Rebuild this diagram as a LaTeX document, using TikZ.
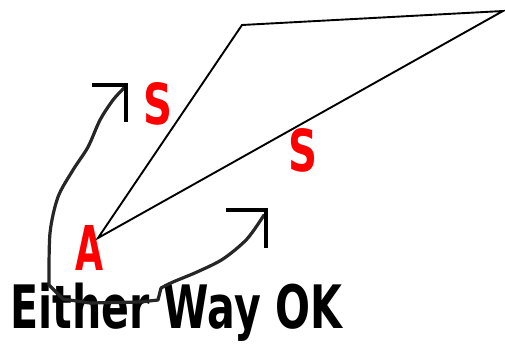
\documentclass[tikz,border=0pt]{standalone}
\usepackage{fontspec}
\setmainfont{DejaVu Sans}
\begin{document}
\begin{tikzpicture}[x=1pt,y=-1pt,
  edge/.style={draw=black,line width=1.9pt,line join=miter},
  swoop/.style={draw=black!85,line width=3.2pt,line join=round,line cap=round},
  headbar/.style={draw=black,line width=4.5pt},
  redlbl/.style={inner sep=0pt,text=red,font=\bfseries},
  caption/.style={inner sep=0pt,text=black,font=\bfseries}]
\useasboundingbox (0,0) rectangle (505,343);
% triangle vertices
\coordinate (va) at (98,238);
\coordinate (vb) at (242,25);
\coordinate (vc) at (503,11);
\draw[edge] (va) -- (vb) -- (vc) -- cycle;
% labels
\node[redlbl] (lblA) at (89.5,247.5) {\resizebox{28pt}{45pt}{A}};
\node[redlbl] (lblS1) at (157.5,104) {\resizebox{29pt}{42pt}{S}};
\node[redlbl] (lblS2) at (302.5,150) {\resizebox{29pt}{43pt}{S}};
% caption
\node[caption,anchor=base west] (cap) at (10,328.5) {\resizebox{332pt}{45.5pt}{Either Way OK}};
% hand-drawn double arrow
\coordinate (tipT) at (124,88);
\coordinate (tipB) at (264,215);
\draw[swoop] plot[smooth,tension=0.5] coordinates {(tipT) (113,100) (100,120) (88,147) (73,170) (58,197) (50,233) (49,285)}
  -- (63,299) -- (90,303) -- (140,302) -- (158,300) -- (161,288)
  plot[smooth,tension=0.5] coordinates {(161,288) (173,282) (197,272) (223,259) (247,239) (tipB)};
\coordinate (hT1) at (92,85);
\coordinate (hT2) at (128,85);
\coordinate (hT3) at (126,122);
\draw[headbar] (hT1) -- (hT2);
\draw[headbar] (126,85) -- (hT3);
\coordinate (hB1) at (226,210);
\coordinate (hB2) at (268,210);
\coordinate (hB3) at (266,248);
\draw[headbar] (hB1) -- (hB2);
\draw[headbar] (266,210) -- (hB3);
\end{tikzpicture}
\end{document}
